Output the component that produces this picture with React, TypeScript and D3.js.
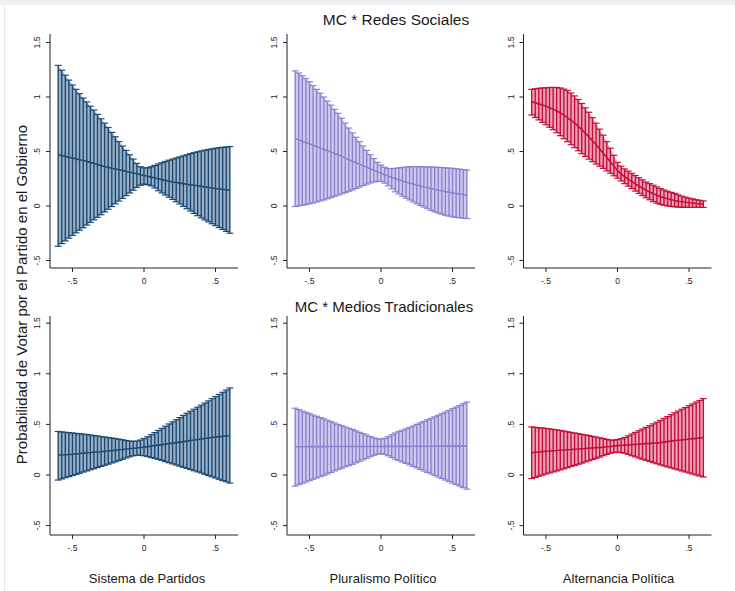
import React from 'react';
import * as d3 from 'd3';

// x grid of the margins (values of each moderator)
const xGrid = [-0.6,-0.575,-0.55,-0.525,-0.5,-0.475,-0.45,-0.425,-0.4,-0.375,-0.35,-0.325,-0.3,-0.275,-0.25,-0.225,-0.2,-0.175,-0.15,-0.125,-0.1,-0.075,-0.05,-0.025,0,0.025,0.05,0.075,0.1,0.125,0.15,0.175,0.2,0.225,0.25,0.275,0.3,0.325,0.35,0.375,0.4,0.425,0.45,0.475,0.5,0.525,0.55,0.575,0.6];

// MC * Redes Sociales — Sistema de Partidos
const redesSistemaPred = [0.47,0.462,0.455,0.447,0.44,0.432,0.425,0.417,0.41,0.40,0.39,0.38,0.37,0.362,0.355,0.347,0.34,0.332,0.325,0.317,0.31,0.302,0.295,0.287,0.28,0.272,0.265,0.257,0.25,0.242,0.235,0.227,0.22,0.215,0.21,0.205,0.20,0.195,0.19,0.185,0.18,0.175,0.17,0.165,0.16,0.156,0.152,0.149,0.145];
const redesSistemaHi = [1.29,1.245,1.20,1.155,1.11,1.07,1.03,0.99,0.955,0.915,0.88,0.84,0.80,0.76,0.72,0.675,0.635,0.59,0.55,0.51,0.47,0.43,0.39,0.36,0.35,0.35,0.36,0.372,0.385,0.397,0.408,0.42,0.43,0.44,0.45,0.46,0.47,0.48,0.489,0.497,0.505,0.512,0.518,0.524,0.53,0.534,0.538,0.542,0.545];
const redesSistemaLo = [-0.37,-0.345,-0.32,-0.295,-0.27,-0.246,-0.222,-0.199,-0.175,-0.151,-0.127,-0.104,-0.08,-0.055,-0.03,-0.005,0.02,0.045,0.07,0.095,0.12,0.145,0.17,0.19,0.20,0.195,0.185,0.165,0.14,0.12,0.10,0.08,0.06,0.039,0.018,-0.004,-0.025,-0.046,-0.068,-0.089,-0.11,-0.128,-0.145,-0.163,-0.18,-0.198,-0.215,-0.233,-0.25];

// MC * Redes Sociales — Pluralismo Político
const redesPluralPred = [0.62,0.607,0.595,0.582,0.57,0.557,0.545,0.532,0.52,0.507,0.495,0.482,0.47,0.455,0.44,0.425,0.41,0.396,0.382,0.369,0.355,0.341,0.327,0.314,0.30,0.287,0.275,0.262,0.25,0.24,0.23,0.22,0.21,0.201,0.192,0.184,0.175,0.167,0.16,0.152,0.145,0.139,0.132,0.126,0.12,0.115,0.11,0.105,0.10];
const redesPluralHi = [1.24,1.22,1.195,1.17,1.14,1.105,1.07,1.035,1.00,0.962,0.925,0.887,0.85,0.805,0.76,0.715,0.67,0.63,0.59,0.55,0.51,0.47,0.435,0.40,0.375,0.355,0.345,0.343,0.345,0.35,0.354,0.357,0.36,0.361,0.361,0.36,0.36,0.359,0.358,0.356,0.355,0.353,0.35,0.348,0.345,0.341,0.338,0.334,0.33];
const redesPluralLo = [-0.005,0.001,0.007,0.013,0.02,0.028,0.037,0.046,0.055,0.066,0.077,0.089,0.10,0.112,0.123,0.135,0.147,0.16,0.173,0.187,0.20,0.211,0.22,0.225,0.225,0.21,0.185,0.158,0.13,0.11,0.09,0.072,0.055,0.038,0.021,0.005,-0.01,-0.025,-0.04,-0.053,-0.065,-0.075,-0.085,-0.093,-0.10,-0.105,-0.109,-0.112,-0.115];

// MC * Redes Sociales — Alternancia Política
const redesAlterPred = [0.955,0.947,0.937,0.927,0.915,0.902,0.888,0.872,0.855,0.834,0.811,0.786,0.76,0.732,0.701,0.669,0.635,0.598,0.561,0.523,0.485,0.445,0.405,0.364,0.325,0.294,0.268,0.246,0.225,0.203,0.183,0.164,0.145,0.129,0.113,0.099,0.085,0.075,0.066,0.058,0.05,0.044,0.039,0.034,0.03,0.027,0.023,0.02,0.017];
const redesAlterHi = [1.07,1.075,1.08,1.083,1.085,1.087,1.088,1.087,1.083,1.073,1.06,1.037,1.01,0.977,0.94,0.90,0.86,0.81,0.76,0.705,0.65,0.59,0.53,0.465,0.40,0.365,0.34,0.32,0.30,0.28,0.26,0.24,0.22,0.205,0.19,0.175,0.16,0.147,0.135,0.125,0.115,0.102,0.09,0.081,0.072,0.065,0.058,0.052,0.046];
const redesAlterLo = [0.835,0.812,0.79,0.767,0.745,0.722,0.70,0.672,0.645,0.617,0.59,0.562,0.535,0.507,0.48,0.455,0.43,0.407,0.385,0.365,0.345,0.322,0.30,0.277,0.255,0.23,0.205,0.182,0.16,0.137,0.115,0.095,0.075,0.057,0.04,0.026,0.015,0.007,0.0,-0.004,-0.008,-0.01,-0.012,-0.012,-0.013,-0.013,-0.013,-0.013,-0.013];

// MC * Medios Tradicionales — Sistema de Partidos
const mediosSistemaPred = [0.195,0.197,0.2,0.202,0.205,0.209,0.212,0.216,0.22,0.222,0.225,0.227,0.23,0.234,0.237,0.241,0.245,0.249,0.252,0.256,0.26,0.264,0.267,0.271,0.275,0.28,0.285,0.29,0.295,0.30,0.305,0.31,0.315,0.32,0.325,0.33,0.335,0.34,0.345,0.35,0.355,0.36,0.365,0.37,0.375,0.379,0.382,0.386,0.39];
const mediosSistemaHi = [0.43,0.426,0.422,0.419,0.415,0.411,0.407,0.404,0.40,0.395,0.39,0.385,0.38,0.375,0.37,0.365,0.36,0.354,0.348,0.341,0.335,0.332,0.335,0.345,0.36,0.378,0.398,0.419,0.44,0.461,0.482,0.504,0.525,0.546,0.567,0.589,0.61,0.63,0.65,0.67,0.69,0.711,0.732,0.754,0.775,0.796,0.817,0.839,0.86];
const mediosSistemaLo = [-0.05,-0.039,-0.027,-0.016,-0.005,0.006,0.017,0.029,0.04,0.051,0.062,0.074,0.085,0.096,0.107,0.119,0.13,0.143,0.155,0.168,0.18,0.19,0.195,0.194,0.19,0.182,0.173,0.164,0.155,0.144,0.132,0.121,0.11,0.099,0.087,0.076,0.065,0.054,0.042,0.031,0.02,0.007,-0.005,-0.018,-0.03,-0.042,-0.055,-0.067,-0.08];

// MC * Medios Tradicionales — Pluralismo Político
const mediosPluralPred = [0.279,0.279,0.279,0.28,0.28,0.28,0.28,0.28,0.28,0.281,0.281,0.281,0.281,0.281,0.281,0.281,0.281,0.282,0.282,0.282,0.282,0.282,0.282,0.282,0.282,0.283,0.283,0.283,0.283,0.283,0.283,0.283,0.283,0.284,0.284,0.284,0.284,0.284,0.284,0.284,0.284,0.285,0.285,0.285,0.285,0.285,0.285,0.285,0.285];
const mediosPluralHi = [0.66,0.646,0.632,0.619,0.605,0.592,0.58,0.567,0.555,0.541,0.527,0.514,0.50,0.487,0.475,0.462,0.45,0.436,0.422,0.409,0.395,0.38,0.367,0.358,0.355,0.362,0.378,0.397,0.415,0.429,0.442,0.456,0.47,0.485,0.50,0.515,0.53,0.545,0.56,0.575,0.59,0.606,0.622,0.639,0.655,0.671,0.687,0.704,0.72];
const mediosPluralLo = [-0.11,-0.096,-0.082,-0.069,-0.055,-0.042,-0.03,-0.017,-0.005,0.01,0.025,0.04,0.055,0.067,0.08,0.092,0.105,0.12,0.135,0.15,0.165,0.181,0.195,0.205,0.21,0.203,0.19,0.173,0.155,0.141,0.127,0.114,0.10,0.085,0.07,0.055,0.04,0.025,0.01,-0.005,-0.02,-0.035,-0.05,-0.065,-0.08,-0.095,-0.11,-0.125,-0.14];

// MC * Medios Tradicionales — Alternancia Política
const mediosAlterPred = [0.22,0.224,0.227,0.231,0.235,0.237,0.24,0.242,0.245,0.247,0.25,0.252,0.255,0.257,0.26,0.262,0.265,0.267,0.27,0.272,0.275,0.279,0.282,0.286,0.29,0.292,0.295,0.297,0.30,0.302,0.305,0.307,0.31,0.312,0.315,0.317,0.32,0.325,0.33,0.335,0.34,0.344,0.347,0.351,0.355,0.359,0.362,0.366,0.37];
const mediosAlterHi = [0.475,0.471,0.467,0.464,0.46,0.455,0.45,0.445,0.44,0.434,0.427,0.421,0.415,0.409,0.402,0.396,0.39,0.382,0.375,0.367,0.36,0.352,0.345,0.345,0.35,0.358,0.37,0.387,0.405,0.421,0.437,0.454,0.47,0.487,0.505,0.522,0.54,0.559,0.577,0.596,0.615,0.632,0.65,0.667,0.685,0.702,0.72,0.737,0.755];
const mediosAlterLo = [-0.035,-0.024,-0.012,-0.001,0.01,0.02,0.03,0.04,0.05,0.061,0.072,0.084,0.095,0.106,0.117,0.129,0.14,0.152,0.165,0.177,0.19,0.203,0.215,0.222,0.225,0.222,0.215,0.204,0.19,0.179,0.167,0.156,0.145,0.134,0.122,0.111,0.10,0.09,0.08,0.07,0.06,0.05,0.04,0.03,0.02,0.01,0.0,-0.01,-0.02];

const xTicks = [-0.5, 0, 0.5];
const yTicks = [-0.5, 0, 0.5, 1, 1.5];
const rowTitles = ['MC * Redes Sociales', 'MC * Medios Tradicionales'];
const colTitles = ['Sistema de Partidos', 'Pluralismo Político', 'Alternancia Política'];
const yTitle = 'Probabilidad de Votar por el Partido en el Gobierno';

const palette = [
  { dark: '#1b4a74', light: '#9bb0c6' },
  { dark: '#8a84d0', light: '#cfcbee' },
  { dark: '#c70d3a', light: '#eaa6b8' },
];

const FONT = '"Liberation Sans", Arial, sans-serif';

const fmt = (v: number) => {
  if (v === 0) return '0';
  const s = String(v);
  return s.replace(/^(-?)0\./, '$1.');
};

const cols = [
  { x0: 50, x1: 238 },
  { x0: 287, x1: 475 },
  { x0: 523.5, x1: 711.5 },
];
const rows = [
  { yTop: 34, yBot: 268, dom: [-0.569, 1.578] },
  { yTop: 316, yBot: 535, dom: [-0.593, 1.571] },
];

const panels = [
  { r: 0, c: 0, pred: redesSistemaPred, lo: redesSistemaLo, hi: redesSistemaHi },
  { r: 0, c: 1, pred: redesPluralPred, lo: redesPluralLo, hi: redesPluralHi },
  { r: 0, c: 2, pred: redesAlterPred, lo: redesAlterLo, hi: redesAlterHi },
  { r: 1, c: 0, pred: mediosSistemaPred, lo: mediosSistemaLo, hi: mediosSistemaHi },
  { r: 1, c: 1, pred: mediosPluralPred, lo: mediosPluralLo, hi: mediosPluralHi },
  { r: 1, c: 2, pred: mediosAlterPred, lo: mediosAlterLo, hi: mediosAlterHi },
];

function Panel({ p }: { p: typeof panels[number] }) {
  const col = cols[p.c];
  const row = rows[p.r];
  const color = palette[p.c];
  const x = d3.scaleLinear().domain([-0.657, 0.657]).range([col.x0, col.x1]);
  const y = d3.scaleLinear().domain(row.dom).range([row.yBot, row.yTop]);
  const data = xGrid.map((xv, i) => ({ x: xv, pred: p.pred[i], lo: p.lo[i], hi: p.hi[i] }));
  const area = d3.area<any>().x(d => x(d.x)).y0(d => y(d.lo)).y1(d => y(d.hi));
  const line = d3.line<any>().x(d => x(d.x)).y(d => y(d.pred));
  const cap = 3.4;
  return (
    <g>
      <path d={area(data) || ''} fill={color.light} />
      {data.map((d, i) => (
        <g key={i} stroke={color.dark} strokeWidth={1.4}>
          <line x1={x(d.x)} x2={x(d.x)} y1={y(d.lo)} y2={y(d.hi)} />
          <line x1={x(d.x) - cap} x2={x(d.x) + cap} y1={y(d.lo)} y2={y(d.lo)} strokeWidth={1.2} />
          <line x1={x(d.x) - cap} x2={x(d.x) + cap} y1={y(d.hi)} y2={y(d.hi)} strokeWidth={1.2} />
        </g>
      ))}
      <path d={line(data) || ''} fill="none" stroke={color.dark} strokeWidth={1.6} />
      {/* axes */}
      <line x1={col.x0} x2={col.x0} y1={row.yTop} y2={row.yBot} stroke="#222" strokeWidth={1} />
      <line x1={col.x0} x2={col.x1} y1={row.yBot} y2={row.yBot} stroke="#222" strokeWidth={1} />
      {yTicks.map(t => (
        <g key={'y' + t}>
          <line x1={col.x0 - 4} x2={col.x0} y1={y(t)} y2={y(t)} stroke="#222" strokeWidth={1} />
          <text
            transform={`translate(${col.x0 - 10},${y(t)}) rotate(-90)`}
            textAnchor="middle"
            fontSize={8.5}
            fontFamily={FONT}
            fill="#222"
          >{fmt(t)}</text>
        </g>
      ))}
      {xTicks.map(t => (
        <g key={'x' + t}>
          <line x1={x(t)} x2={x(t)} y1={row.yBot} y2={row.yBot + 4} stroke="#222" strokeWidth={1} />
          <text x={x(t)} y={row.yBot + 16} textAnchor="middle" fontSize={8.5} fontFamily={FONT} fill="#222">{fmt(t)}</text>
        </g>
      ))}
    </g>
  );
}

export default function App() {
  return (
    <svg width={735} height={591} style={{ position: 'absolute', left: 0, top: 0, background: '#fff' }}>
      <rect x={0} y={0} width={735} height={591} fill="#fff" />
      <rect x={0} y={0} width={735} height={5} fill="#eef1f4" />
      <line x1={4.5} x2={4.5} y1={5} y2={591} stroke="#e6eaee" strokeWidth={1} />
      {panels.map((p, i) => <Panel key={i} p={p} />)}
      <text x={396} y={25} textAnchor="middle" fontSize={15.5} fontFamily={FONT} fill="#1a1a1a">{rowTitles[0]}</text>
      <text x={384} y={312} textAnchor="middle" fontSize={15} fontFamily={FONT} fill="#1a1a1a">{rowTitles[1]}</text>
      {colTitles.map((t, i) => (
        <text key={t} x={[147, 383, 618.5][i]} y={583} textAnchor="middle" fontSize={13} fontFamily={FONT} fill="#1a1a1a">{t}</text>
      ))}
      <text transform="translate(27,294.5) rotate(-90)" textAnchor="middle" fontSize={15} fontFamily={FONT} fill="#1a1a1a">{yTitle}</text>
    </svg>
  );
}
